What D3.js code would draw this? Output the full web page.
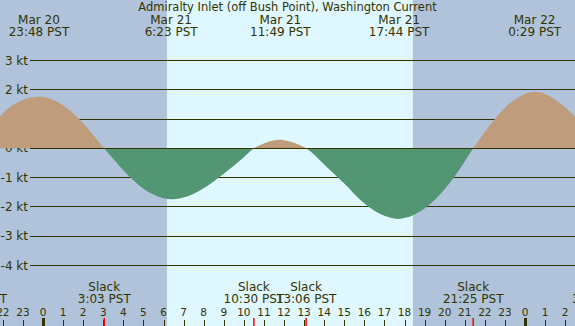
<!DOCTYPE html>
<html>
<head>
<meta charset="utf-8">
<script src="https://cdn.jsdelivr.net/npm/d3@7"></script>
<style>
  body { margin: 0; }
  svg { display: block; font-family: "DejaVu Sans", sans-serif; }
</style>
</head>
<body>
<div id="chart"></div>
<script>
const width = 575, height = 326;

// hours counted from Mar 21 0:00 PST, current in knots (+ flood, - ebb)
const hours = [-2.14, -2, -1, -0.2, 0, 1, 2, 3, 3.05, 4, 5, 6, 6.38, 7, 8, 9, 10, 10.5,
    11, 11.82, 12, 13, 13.1, 14, 15, 16, 17, 17.73, 18, 19, 20, 21, 21.42, 22, 23, 24, 24.48, 25, 26, 26.5];
const knots = [1.1, 1.2, 1.65, 1.76, 1.75, 1.47, 0.86, 0.04, 0, -0.75, -1.38, -1.7, -1.74, -1.68, -1.36, -0.87, -0.3, 0,
    0.17, 0.29, 0.28, 0.04, 0, -0.55, -1.2, -1.88, -2.3, -2.41, -2.38, -2.05, -1.4, -0.45, 0, 0.56, 1.39, 1.86, 1.93, 1.86, 1.4, 1.08];

// max flood / max ebb labels along the top
const eventHours = [-0.2, 6.38, 11.82, 17.73, 24.48];
const eventDates = ["Mar 20", "Mar 21", "Mar 21", "Mar 21", "Mar 22"];
const eventTimes = ["23:48 PST", "6:23 PST", "11:49 PST", "17:44 PST", "0:29 PST"];

// slack water
const slackHours = [-3.3, 3.05, 10.5, 13.1, 21.42, 27.66];
const slackTimes = ["20:42 PST", "3:03 PST", "10:30 PST", "13:06 PST", "21:25 PST", "3:40 PST"];

const knotTicks = [3, 2, 1, 0, -1, -2, -3, -4];
const hourTicks = [-2, -1, 0, 1, 2, 3, 4, 5, 6, 7, 8, 9, 10, 11, 12, 13, 14, 15, 16, 17, 18, 19, 20, 21, 22, 23, 24, 25, 26];
const daylight = [6.17, 18.42];

const ink = "#333300";

const svg = d3.select("#chart")
    .append("svg")
    .attr("width", width)
    .attr("height", height);

let xScale = d3.scaleLinear()
    .domain([0, 24])
    .range([43, 525]);

let yScale = d3.scaleLinear()
    .domain([-4, 3])
    .range([265.5, 60.5]);

// night / day background
svg.append("rect")
    .attr("width", width)
    .attr("height", height)
    .attr("fill", "#b0c3da");
svg.append("rect")
    .attr("x", xScale(daylight[0]))
    .attr("width", xScale(daylight[1]) - xScale(daylight[0]))
    .attr("height", height)
    .attr("fill", "#dff7ff");

// grid lines
svg.selectAll(".grid")
    .data(knotTicks)
    .enter().append("line")
    .attr("class", "grid")
    .attr("x1", 30)
    .attr("x2", width)
    .attr("y1", d => Math.floor(yScale(d)) + 0.5)
    .attr("y2", d => Math.floor(yScale(d)) + 0.5)
    .attr("stroke", ink);

svg.selectAll(".klabel")
    .data(knotTicks)
    .enter().append("text")
    .attr("class", "klabel")
    .attr("x", 28)
    .attr("y", d => yScale(d) + 4)
    .attr("text-anchor", "end")
    .attr("fill", ink)
    .style("font-size", "12px")
    .text(d => d + " kt");

// flood / ebb fills
const defs = svg.append("defs");
defs.append("clipPath").attr("id", "above")
    .append("rect").attr("width", width).attr("height", yScale(0));
defs.append("clipPath").attr("id", "below")
    .append("rect").attr("y", yScale(0)).attr("width", width).attr("height", height);

const dataset = hours.map((h, i) => ({hour: h, value: knots[i]}));
const area = d3.area()
    .x(d => xScale(d.hour))
    .y0(yScale(0))
    .y1(d => yScale(d.value))
    .curve(d3.curveMonotoneX);

svg.append("path")
    .datum(dataset)
    .attr("clip-path", "url(#above)")
    .attr("fill", "#bf9c7b")
    .attr("d", area);
svg.append("path")
    .datum(dataset)
    .attr("clip-path", "url(#below)")
    .attr("fill", "#529673")
    .attr("d", area);

svg.append("line")
    .attr("x1", 30)
    .attr("x2", width)
    .attr("y1", Math.floor(yScale(0)) + 0.5)
    .attr("y2", Math.floor(yScale(0)) + 0.5)
    .attr("stroke", ink);

// title and event labels
svg.append("text")
    .attr("x", width / 2)
    .attr("y", 11)
    .attr("text-anchor", "middle")
    .attr("fill", ink)
    .style("font-size", "11.5px")
    .text("Admiralty Inlet (off Bush Point), Washington Current");

const events = svg.selectAll(".event")
    .data(eventHours)
    .enter().append("g")
    .attr("class", "event")
    .attr("fill", ink)
    .attr("text-anchor", "middle")
    .style("font-size", "12px");
events.append("text")
    .attr("x", d => xScale(d))
    .attr("y", 24)
    .text((d, i) => eventDates[i]);
events.append("text")
    .attr("x", d => xScale(d))
    .attr("y", 36)
    .text((d, i) => eventTimes[i]);

// slack labels
const slacks = svg.selectAll(".slack")
    .data(slackHours)
    .enter().append("g")
    .attr("class", "slack")
    .attr("fill", ink)
    .attr("text-anchor", "middle")
    .style("font-size", "12px");
slacks.append("text")
    .attr("x", d => xScale(d))
    .attr("y", 291)
    .text("Slack");
slacks.append("text")
    .attr("x", d => xScale(d))
    .attr("y", 303)
    .text((d, i) => slackTimes[i]);

// hour axis
svg.selectAll(".hlabel")
    .data(hourTicks)
    .enter().append("text")
    .attr("class", "hlabel")
    .attr("x", d => xScale(d))
    .attr("y", 316)
    .attr("text-anchor", "middle")
    .attr("fill", ink)
    .style("font-size", "10.5px")
    .text(d => ((d % 24) + 24) % 24);

svg.selectAll(".htick")
    .data(hourTicks)
    .enter().append("line")
    .attr("class", "htick")
    .attr("x1", d => Math.round(xScale(d)) + 0.5)
    .attr("x2", d => Math.round(xScale(d)) + 0.5)
    .attr("y1", d => d % 24 === 0 ? 318 : 320)
    .attr("y2", height)
    .attr("stroke", ink)
    .attr("stroke-width", d => d % 24 === 0 ? 3 : 1);

svg.selectAll(".stick")
    .data(slackHours)
    .enter().append("line")
    .attr("class", "stick")
    .attr("x1", d => xScale(d))
    .attr("x2", d => xScale(d))
    .attr("y1", 318)
    .attr("y2", height)
    .attr("stroke", "red")
    .attr("stroke-width", 1.5);
</script>
</body>
</html>
